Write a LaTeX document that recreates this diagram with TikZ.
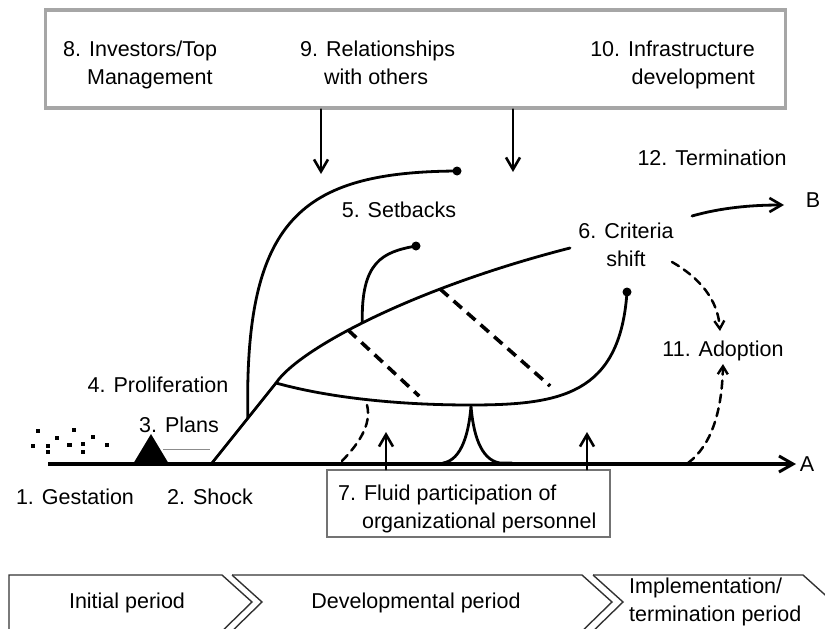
\documentclass[tikz,border=0pt]{standalone}
\usepackage{fontspec}
\setmainfont{Liberation Sans}
\usetikzlibrary{arrows.meta,calc}
\begin{document}
\begin{tikzpicture}[x=1pt,y=-1pt,
  lbl/.style={inner sep=0pt, anchor=base, font=\fontsize{21.5}{28}\selectfont},
  curve/.style={line width=2.8pt, line cap=round},
  dsh/.style={line width=3.6pt, dash pattern=on 11pt off 7pt},
  dshs/.style={line width=2.5pt, dash pattern=on 8pt off 6pt},
  barb/.style={-{Straight Barb[length=12pt,width=14pt,line width=2.6pt]}},
  sbarb/.style={-{Straight Barb[length=8pt,width=10pt,line width=2.4pt]}},
  enddot/.style={circle, fill=black, inner sep=0pt, minimum size=9pt},
  sq/.style={fill=black, inner sep=0pt, minimum size=3.8pt},
  chev/.style={draw=black!80, line width=1.4pt},
]
\useasboundingbox (0,0) rectangle (825,629);
\clip (0,0) rectangle (825,629);

% ---- top box ----
\node[draw=black!35, line width=3.2pt, minimum width=740pt, minimum height=98pt, inner sep=0pt] (top) at (415.5,59) {};
\node[lbl, align=left, anchor=base west] (t8) at (63,84) {8. Investors/Top\\\hphantom{8.\ }Management};
\node[lbl, align=left, anchor=base west] (t9) at (300,84) {9. Relationships\\\hphantom{9.\ }with others};
\node[lbl, align=right, anchor=base east] (t10) at (755,84) {10. Infrastructure\\development};
\coordinate (a8) at (321,174);
\coordinate (a9) at (513,172);
\draw[curve,barb] (top.south -| a8) -- (a8);
\draw[curve,barb] (top.south -| a9) -- (a9);

% ---- labels ----
\node[lbl] (gest) at (75,504) {1. Gestation};
\node[lbl] (shock) at (210,504) {2. Shock};
\node[lbl] (plans) at (179,432) {3. Plans};
\node[lbl] (prolif) at (158,392) {4. Proliferation};
\node[lbl] (setb) at (399,217) {5. Setbacks};
\node[lbl, align=center] (crit) at (626,266) {6. Criteria\\shift};
\node[lbl] (adopt) at (723,356) {11. Adoption};
\node[lbl] (term) at (712,165) {12. Termination};
\node[lbl] (Blab) at (813,207) {B};
\node[lbl] (Alab) at (807,471) {A};

% ---- gestation dots ----
\foreach \p in {(38.3,430.7),(74,430),(32.7,445.7),(47.7,445.7),(47.7,452.3),(56.7,438.3),(82.7,444.3),(82.7,451.7),(92.7,437.3),(107.3,445)}
  \node[sq] at \p {};
\node[sq, minimum width=5.5pt] at (69.5,445) {};

% ---- plans triangle ----
\fill (133,464) -- (151,434) -- (169,464) -- cycle;
\draw[black!45, line width=1.2pt] (163,449.3) -- (210,449.3);

% ---- axis A ----
\coordinate (A0) at (48,464);
\coordinate (A1) at (796,464);
\draw[line width=3.8pt, -{Straight Barb[length=14pt,width=16pt,line width=3pt]}] (A0) -- (A1);

% ---- box 7 ----
\node[draw=black!55, line width=1.5pt, minimum width=283pt, minimum height=67pt, inner sep=0pt] (fluid) at (468.5,503.5) {};
\node[lbl, align=left, anchor=base west] (t7) at (338,528) {7. Fluid participation of\\\hphantom{7.\ }organizational personnel};
\coordinate (u1) at (386,432);
\coordinate (u2) at (587,432);
\draw[curve,barb] (fluid.north -| u1) -- (u1);
\draw[curve,barb] (fluid.north -| u2) -- (u2);

% ---- main structure ----
\coordinate (s0) at (212,463);
\coordinate (br) at (276,383);
\coordinate (sb) at ($(s0)!0.56!(br)$);
\coordinate (ce) at (570,248);
\coordinate (lp) at (470,405);
\node[enddot] (e1) at (457,171) {};
\node[enddot] (e2) at (416,246) {};
\node[enddot] (e3) at (627,292) {};

\draw[curve] (s0) -- (br) .. controls (298,350) and (410,289) .. (ce)
   coordinate[pos=0.42] (d1) coordinate[pos=0.47] (ss) coordinate[pos=0.7] (d2);
\draw[curve] (sb) .. controls (244,220) and (300,172) .. (e1.center);
\draw[curve] (ss) .. controls (361,262) and (382,252) .. (e2.center);
\draw[curve] (br) .. controls (330,398) and (400,405) .. (lp)
   .. controls (560,405) and (620,395) .. (e3.center);
\draw[dsh] (d1) -- ++(71,66);
\draw[dsh] (d2) -- ++(110,97);
\draw[curve, dshs] (367,405) .. controls (372,425) and (358,445) .. (340,463);
\draw[curve] (443,463) .. controls (462,460) and (469,432) .. (471,406)
   .. controls (473,432) and (480,460) .. (500,463) -- (512,463);

% ---- right side arrows ----
\coordinate (tm0) at (692,216);
\coordinate (tm1) at (784,205);
\draw[curve,barb] (tm0) .. controls (720,208) and (750,205) .. (tm1);
\coordinate (c0) at (672,262);
\coordinate (c1) at (720,331);
\draw[curve, dshs, sbarb] (c0) .. controls (700,278) and (718,300) .. (c1);
\coordinate (x0) at (688,463);
\coordinate (x1) at (723,364);
\draw[curve, dshs, sbarb] (x0) .. controls (712,445) and (722,410) .. (x1);

% ---- chevrons ----
\draw[chev] (9,640) -- (9,575) -- (222,575) -- (252,602) -- (215,638);
\draw[chev] (232,575) -- (262,602) -- (225,638);
\draw[chev] (232,575) -- (582,575) -- (612,602) -- (575,638);
\draw[chev] (593,575) -- (623,602) -- (586,638);
\draw[chev] (593,575) -- (803,575) -- (833,602);
\node[lbl] (ini) at (127,608) {Initial period};
\node[lbl] (dev) at (416,608) {Developmental period};
\node[lbl, align=left, anchor=base west] (impl) at (629,621) {Implementation/\\termination period};
\end{tikzpicture}
\end{document}
